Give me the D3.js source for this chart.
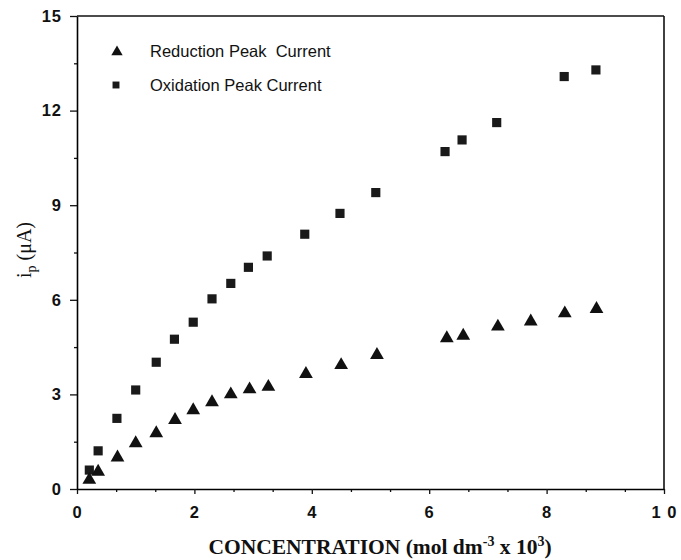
<!DOCTYPE html>
<html><head><meta charset="utf-8">
<script src="https://cdn.jsdelivr.net/npm/d3@7"></script>
<style>body{margin:0;background:#fff}svg{display:block}</style>
</head><body>
<svg id="c" width="681" height="560"></svg>
<script>
// ---- data ----
const xTickValues = [0, 2, 4, 6, 8, 10];
const xTickLabels = ["0", "2", "4", "6", "8", "1 0"];
const yTickValues = [0, 3, 6, 9, 12, 15];
const yTickLabels = ["0", "3", "6", "9", "12", "15"];
const seriesNames = ["Reduction Peak  Current", "Oxidation Peak Current"];

const concRed = [0.21, 0.36, 0.69, 1.00, 1.35, 1.67, 1.98, 2.30, 2.62, 2.94, 3.26, 3.90, 4.50, 5.11, 6.30, 6.58, 7.17, 7.73, 8.31, 8.85];
const ipRed   = [0.29, 0.55, 1.00, 1.45, 1.77, 2.19, 2.50, 2.75, 3.00, 3.16, 3.24, 3.65, 3.93, 4.25, 4.78, 4.86, 5.15, 5.31, 5.57, 5.71];

const concOx = [0.21, 0.36, 0.68, 1.00, 1.35, 1.66, 1.98, 2.30, 2.62, 2.92, 3.24, 3.88, 4.48, 5.09, 6.27, 6.56, 7.15, 8.30, 8.84];
const ipOx   = [0.60, 1.21, 2.24, 3.14, 4.02, 4.75, 5.29, 6.03, 6.52, 7.03, 7.39, 8.08, 8.74, 9.40, 10.70, 11.07, 11.62, 13.08, 13.29];

// ---- chart ----
const svg = d3.select("#c");
const x = d3.scaleLinear().domain([0, 10]).range([77, 664]);
const y = d3.scaleLinear().domain([0, 15]).range([489, 16]);

const sans = "'Liberation Sans', Arial, Helvetica, sans-serif";
const serif = "'Liberation Serif', 'Times New Roman', Times, serif";

// minor ticks
const xMinor = d3.range(0, 10.001, 2 / 3).filter(v => Math.abs(v / 2 - Math.round(v / 2)) > 1e-6);
const yMinor = d3.range(1.5, 15, 3);

const gx = svg.append("g").attr("transform", `translate(0,${y(0)})`);
gx.call(d3.axisBottom(x).tickValues(xMinor).tickSize(3).tickFormat(""))
  .call(g => g.select(".domain").remove());
gx.append("g").call(d3.axisBottom(x).tickValues(xTickValues).tickSize(5).tickSizeOuter(0)
    .tickFormat((d, i) => xTickLabels[i]).tickPadding(12))
  .call(g => g.select(".domain").attr("stroke-width", 1.6))
  .call(g => g.selectAll("text").attr("font-family", sans).attr("font-weight", "bold").attr("font-size", 16.5)
    .attr("letter-spacing", 1).attr("fill", "#111"));

const gy = svg.append("g").attr("transform", `translate(${x(0)},0)`);
gy.call(d3.axisLeft(y).tickValues(yMinor).tickSize(3).tickFormat(""))
  .call(g => g.select(".domain").remove());
gy.append("g").call(d3.axisLeft(y).tickValues(yTickValues).tickSize(7).tickSizeOuter(0)
    .tickFormat((d, i) => yTickLabels[i]).tickPadding(8))
  .call(g => g.select(".domain").attr("stroke-width", 1.6))
  .call(g => g.selectAll("text").attr("font-family", sans).attr("font-weight", "bold").attr("font-size", 16.5)
    .attr("letter-spacing", 1).attr("fill", "#111"));

svg.selectAll(".tick line").attr("stroke", "#111").attr("stroke-width", 1.3);

// frame top and right
svg.append("line").attr("x1", x(0)).attr("x2", x(10)).attr("y1", y(15)).attr("y2", y(15))
  .attr("stroke", "#111").attr("stroke-width", 1.6);
svg.append("line").attr("x1", x(10)).attr("x2", x(10)).attr("y1", y(15)).attr("y2", y(0))
  .attr("stroke", "#111").attr("stroke-width", 1.6);

// markers
const tri = d3.symbol().type(d3.symbolTriangle).size(82);
const sq = d3.symbol().type(d3.symbolSquare).size(84);

svg.append("g").selectAll("path").data(concOx).join("path")
  .attr("d", sq).attr("fill", "#1a1a1a")
  .attr("transform", (d, i) => `translate(${x(d)},${y(ipOx[i])})`);
svg.append("g").selectAll("path").data(concRed).join("path")
  .attr("d", tri).attr("fill", "#111")
  .attr("transform", (d, i) => `translate(${x(d)},${y(ipRed[i])})`);

// legend
const leg = svg.append("g");
leg.append("path").attr("d", d3.symbol().type(d3.symbolTriangle).size(56)).attr("fill", "#111")
  .attr("transform", "translate(117,52)");
leg.append("path").attr("d", d3.symbol().type(d3.symbolSquare).size(48)).attr("fill", "#1a1a1a")
  .attr("transform", "translate(116,85)");
leg.append("text").attr("x", 150).attr("y", 57).attr("font-family", sans).attr("font-size", 16.5)
  .attr("fill", "#111").attr("xml:space", "preserve").style("white-space", "pre").text(seriesNames[0]);
leg.append("text").attr("x", 150).attr("y", 91).attr("font-family", sans).attr("font-size", 16.5)
  .attr("fill", "#111").text(seriesNames[1]);

// axis titles
const xt = svg.append("text").attr("x", 380).attr("y", 554).attr("text-anchor", "middle")
  .attr("font-family", serif).attr("font-weight", "bold").attr("font-size", 21.5).attr("fill", "#111");
xt.append("tspan").text("CONCENTRATION (mol dm");
xt.append("tspan").attr("dy", -8).attr("font-size", 14).text("-3");
xt.append("tspan").attr("dy", 8).text(" x 10");
xt.append("tspan").attr("dy", -8).attr("font-size", 14).text("3");
xt.append("tspan").attr("dy", 8).text(")");

const yt = svg.append("text").attr("transform", "translate(31,250) rotate(-90)").attr("text-anchor", "middle")
  .attr("font-family", serif).attr("font-size", 20).attr("fill", "#111");
yt.append("tspan").text("i");
yt.append("tspan").attr("dy", 5).attr("font-size", 14).text("p");
yt.append("tspan").attr("dy", -5).text(" (\u03BCA)");
</script>
</body></html>
